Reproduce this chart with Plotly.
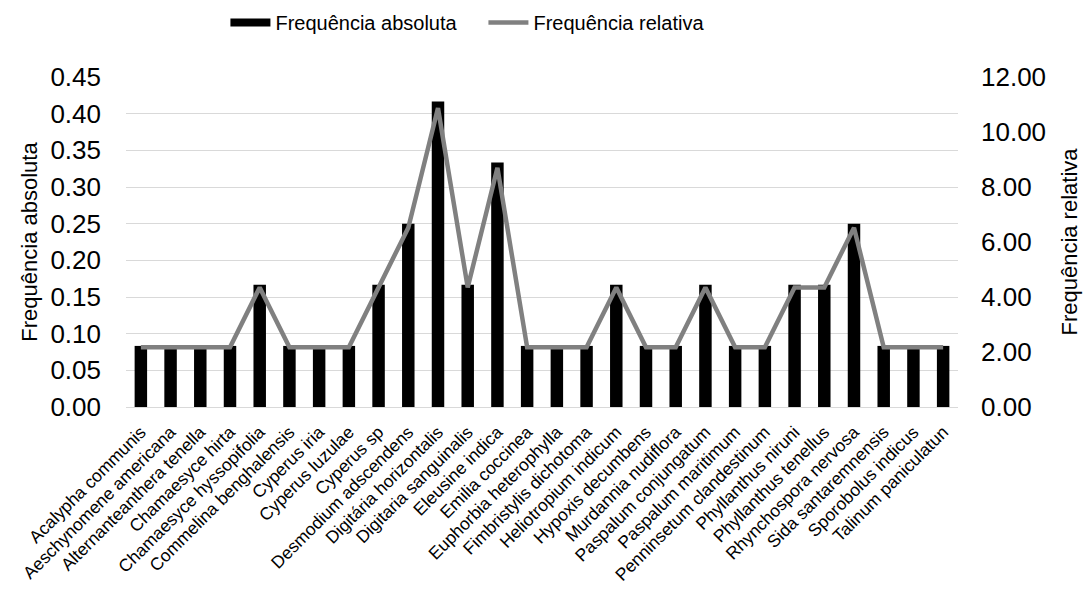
import plotly.graph_objects as go

# Espécies amostradas
especies = [
    "Acalypha communis", "Aeschynomene americana", "Alternanteanthera tenella",
    "Chamaesyce hirta", "Chamaesyce hyssopifolia", "Commelina benghalensis",
    "Cyperus iria", "Cyperus luzulae", "Cyperus sp", "Desmodium adscendens",
    "Digitária horizontalis", "Digitaria sanguinalis", "Eleusine indica",
    "Emilia coccinea", "Euphorbia heterophylla", "Fimbristylis dichotoma",
    "Heliotropium indicum", "Hypoxis decumbens", "Murdannia nudiflora",
    "Paspalum conjungatum", "Paspalum maritimum", "Penninsetum clandestinum",
    "Phyllanthus niruni", "Phyllanthus tenellus", "Rhynchospora nervosa",
    "Sida santaremnensis", "Sporobolus indicus", "Talinum paniculatun",
]

# Frequência absoluta (eixo esquerdo)
freq_absoluta = [
    0.0833, 0.0833, 0.0833, 0.0833, 0.1667, 0.0833, 0.0833, 0.0833, 0.1667,
    0.2500, 0.4167, 0.1667, 0.3333, 0.0833, 0.0833, 0.0833, 0.1667, 0.0833,
    0.0833, 0.1667, 0.0833, 0.0833, 0.1667, 0.1667, 0.2500, 0.0833, 0.0833,
    0.0833,
]

# Frequência relativa em % (eixo direito)
freq_relativa = [
    2.17, 2.17, 2.17, 2.17, 4.35, 2.17, 2.17, 2.17, 4.35, 6.52, 10.87, 4.35,
    8.70, 2.17, 2.17, 2.17, 4.35, 2.17, 2.17, 4.35, 2.17, 2.17, 4.35, 4.35,
    6.52, 2.17, 2.17, 2.17,
]

ticks_abs = [0, 0.05, 0.10, 0.15, 0.20, 0.25, 0.30, 0.35, 0.40, 0.45]
ticks_rel = [0, 2, 4, 6, 8, 10, 12]

FONT = "Liberation Sans, Arial, sans-serif"
GRAY_LINE = "rgb(128,128,128)"
GRID = "#d9d9d9"

fig = go.Figure()

fig.add_trace(go.Bar(
    x=especies, y=freq_absoluta, name="Frequência absoluta",
    marker=dict(color="black", line=dict(width=0)),
    width=0.42, showlegend=False, legendgroup="abs",
))
# legend swatch for the bars (wide black block)
fig.add_trace(go.Scatter(
    x=[None], y=[None], mode="lines", name="Frequência absoluta",
    line=dict(color="black", width=8), legendgroup="abs",
))
fig.add_trace(go.Scatter(
    x=especies, y=freq_relativa, name="Frequência relativa", yaxis="y2",
    mode="lines", line=dict(color=GRAY_LINE, width=4.5),
))

fig.update_layout(
    width=1089, height=589,
    margin=dict(l=126, r=131, t=77, b=182, autoexpand=False),
    paper_bgcolor="white", plot_bgcolor="white",
    font=dict(family=FONT, color="black"),
    legend=dict(
        orientation="h", xref="container", yref="container",
        x=0.207, y=0.995, xanchor="left", yanchor="top",
        font=dict(size=20), itemwidth=40, traceorder="normal",
        entrywidth=203, entrywidthmode="pixels",
    ),
    xaxis=dict(
        tickangle=-45, tickfont=dict(size=17.5), showgrid=False,
        showline=True, linecolor=GRID, linewidth=1,
        ticklabelstandoff=7, automargin=False,
    ),
    yaxis=dict(
        range=[0, 0.45], tickvals=ticks_abs, tickformat=".2f",
        tickfont=dict(size=26), showgrid=True, gridcolor=GRID, gridwidth=1,
        zeroline=False, ticklabelstandoff=24, automargin=False,
        title=dict(text="Frequência absoluta", font=dict(size=22), standoff=6),
    ),
    yaxis2=dict(
        range=[0, 12], tickvals=ticks_rel, tickformat=".2f",
        overlaying="y", side="right", showgrid=False, zeroline=False,
        tickfont=dict(size=26), ticklabelstandoff=22, automargin=False,
        title=dict(text="Frequência relativa", font=dict(size=22), standoff=16),
    ),
)

fig.write_html("out.html")
